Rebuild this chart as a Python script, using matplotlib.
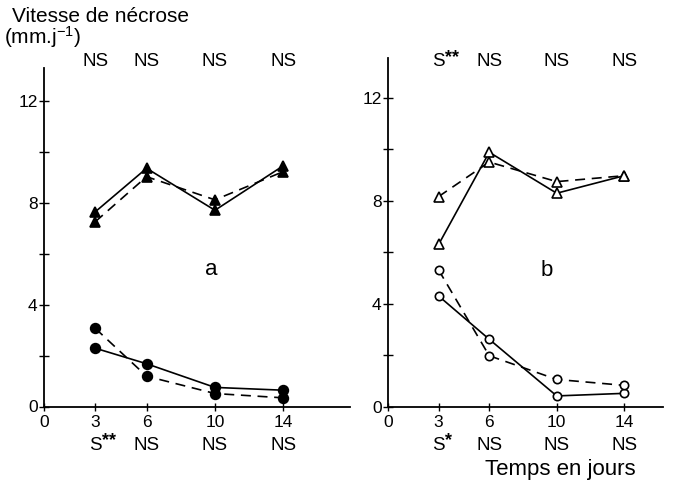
import matplotlib.pyplot as plt
from matplotlib.transforms import blended_transform_factory

plt.rcParams['font.family'] = ['Liberation Sans', 'DejaVu Sans']
plt.rcParams['mathtext.fontset'] = 'custom'
plt.rcParams['mathtext.rm'] = 'Liberation Sans'
plt.rcParams['mathtext.default'] = 'regular'

days = [3, 6, 10, 14]

# panel a (filled markers)
a_tri_solid = [7.65, 9.36, 7.71, 9.46]
a_tri_dash = [7.26, 9.03, 8.12, 9.23]
a_circ_solid = [2.29, 1.68, 0.75, 0.64]
a_circ_dash = [3.07, 1.19, 0.51, 0.34]

# panel b (open markers)
b_tri_solid = [6.31, 9.89, 8.30, 8.98]
b_tri_dash = [8.17, 9.51, 8.75, 8.98]
b_circ_solid = [4.31, 2.63, 0.43, 0.53]
b_circ_dash = [5.32, 1.99, 1.07, 0.84]

a_top = ["NS", "NS", "NS", "NS"]
a_bottom = ["S**", "NS", "NS", "NS"]
b_top = ["S**", "NS", "NS", "NS"]
b_bottom = ["S*", "NS", "NS", "NS"]

W, H = 673, 487
fig = plt.figure(figsize=(W / 100, H / 100), dpi=100)


def make_axes(x0, x1, y0, y1, xmax, ymax):
    ax = fig.add_axes([x0 / W, 1 - y0 / H, (x1 - x0) / W, (y0 - y1) / H])
    ax.set_xlim(0, xmax)
    ax.set_ylim(0, ymax)
    ax.patch.set_alpha(0)
    for s in ["top", "right"]:
        ax.spines[s].set_visible(False)
    for s in ["left", "bottom"]:
        ax.spines[s].set_linewidth(1.3)
    ax.set_xticks([0] + days)
    ax.set_xticklabels(["0", "3", "6", "10", "14"])
    ax.set_yticks([0, 4, 8, 12])
    ax.set_yticks([2, 6, 10], minor=True)
    ax.tick_params(axis="both", which="both", direction="inout", length=7,
                   width=1.0, labelsize=12.5, pad=2)
    ax.tick_params(axis="x", which="major", length=6, pad=3)
    ax.tick_params(axis="y", which="major", pad=1)
    return ax


dash = (0, (6, 4))


def draw(ax, ts, td, cs, cd, filled):
    fc = "black" if filled else "white"
    kw = dict(color="black", lw=1.2, markerfacecolor=fc,
              markeredgecolor="black", markeredgewidth=1.2, clip_on=False)
    ms_c = 7 if filled else 6
    ax.plot(days, ts, marker="^", ls="-", markersize=7, **kw)
    ax.plot(days, td, marker="^", ls=dash, markersize=7, **kw)
    ax.plot(days, cs, marker="o", ls="-", markersize=ms_c, **kw)
    ax.plot(days, cd, marker="o", ls=dash, markersize=ms_c, **kw)


def put_label(ax, tr, d, y, t):
    if t.startswith("S*"):
        # S with raised stars
        ax.text(d, y, "S", transform=tr, ha="center", va="center",
                fontsize=13.5)
        ax.annotate(t[1:], xy=(d, y), xycoords=tr, xytext=(4.5, 3),
                    textcoords="offset points", ha="left", va="center",
                    fontsize=13, fontweight="bold")
    else:
        ax.text(d, y, t, transform=tr, ha="center", va="center",
                fontsize=13.5)


def labels(ax, top, bottom):
    tr = blended_transform_factory(ax.transData, fig.transFigure)
    for d, t in zip(days, top):
        put_label(ax, tr, d, 1 - 62 / H, t)
    for d, t in zip(days, bottom):
        put_label(ax, tr, d, 1 - 445 / H, t)


ax_a = make_axes(44, 350, 406.5, 68, 17.9, 13.3)
draw(ax_a, a_tri_solid, a_tri_dash, a_circ_solid, a_circ_dash, True)
labels(ax_a, a_top, a_bottom)
ax_a.text(9.8, 5.4, "a", fontsize=16, ha="center", va="center")

ax_b = make_axes(388, 663, 407, 58, 16.3, 13.55)
draw(ax_b, b_tri_solid, b_tri_dash, b_circ_solid, b_circ_dash, False)
labels(ax_b, b_top, b_bottom)
ax_b.text(9.4, 5.3, "b", fontsize=16, ha="center", va="center")

fig.text(12 / W, 1 - 17 / H, "Vitesse de nécrose", fontsize=15, va="center")
fig.text(4 / W, 1 - 37 / H, "(mm.j$^{-1}$)", fontsize=15, va="center")
fig.text(560 / W, 1 - 469 / H, "Temps en jours", fontsize=16,
         ha="center", va="center")

fig.savefig("out.png", dpi=100)
